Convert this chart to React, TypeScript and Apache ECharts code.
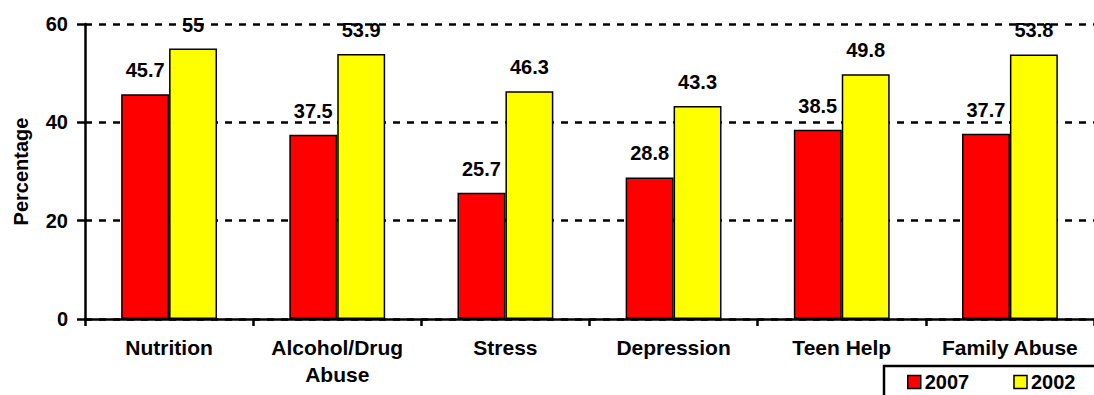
import React, { useEffect, useRef } from "react";
import * as echarts from "echarts";

const categories = ["Nutrition", "Alcohol/Drug\nAbuse", "Stress", "Depression", "Teen Help", "Family Abuse"];
const values2007 = [45.7, 37.5, 25.7, 28.8, 38.5, 37.7];
const values2002 = [55, 53.9, 46.3, 43.3, 49.8, 53.8];
const yTicks = { min: 0, max: 60, interval: 20 };

const FONT = "'Liberation Sans', Arial, sans-serif";

export default function App() {
  const ref = useRef<HTMLDivElement>(null);
  useEffect(() => {
    if (!ref.current) return;
    const chart = echarts.init(ref.current, null, { renderer: "svg" });
    const label = {
      show: true,
      position: "top",
      distance: 14,
      color: "#000",
      fontFamily: FONT,
      fontWeight: "bold",
      fontSize: 20,
    };
    chart.setOption({
      animation: false,
      textStyle: { fontFamily: FONT },
      grid: { left: 85, right: 0, top: 24, bottom: 76 },
      legend: {
        left: 884,
        top: 366,
        width: 400,
        orient: "horizontal",
        icon: "rect",
        padding: [6, 40, 30, 23],
        borderColor: "#000",
        borderWidth: 2.5,
        itemWidth: 13,
        itemHeight: 13,
        itemGap: 44,
        itemStyle: { borderColor: "#000", borderWidth: 1.5 },
        textStyle: { fontFamily: FONT, fontWeight: "bold", fontSize: 20, color: "#000", padding: [0, 0, 0, -1] },
        data: ["2007", "2002"],
      },
      xAxis: {
        type: "category",
        data: categories,
        axisLine: { lineStyle: { color: "#000", width: 2.5 } },
        axisTick: { show: true, length: 7, lineStyle: { color: "#000", width: 2.5 } },
        axisLabel: {
          color: "#000",
          fontFamily: FONT,
          fontWeight: "bold",
          fontSize: 21,
          lineHeight: 27,
          margin: 15,
          interval: 0,
        },
      },
      yAxis: {
        type: "value",
        min: yTicks.min,
        max: yTicks.max,
        interval: yTicks.interval,
        name: "Percentage",
        nameLocation: "middle",
        nameGap: 54,
        nameTextStyle: { color: "#000", fontFamily: FONT, fontWeight: "bold", fontSize: 20 },
        axisLine: { show: true, lineStyle: { color: "#000", width: 2.5 } },
        axisTick: { show: true, length: 8, lineStyle: { color: "#000", width: 2.5 } },
        axisLabel: { color: "#000", fontFamily: FONT, fontWeight: "bold", fontSize: 20, margin: 17 },
        splitLine: { show: true, lineStyle: { color: "#000", width: 2.5, type: [7, 7] } },
      },
      series: [
        {
          name: "2007",
          type: "bar",
          data: values2007,
          barGap: "0%",
          barCategoryGap: "43%",
          itemStyle: { color: "#ff0000", borderColor: "#000", borderWidth: 1.5 },
          label,
        },
        {
          name: "2002",
          type: "bar",
          data: values2002,
          barGap: "0%",
          barCategoryGap: "43%",
          itemStyle: { color: "#ffff00", borderColor: "#000", borderWidth: 1.5 },
          label,
        },
      ],
    });
    return () => chart.dispose();
  }, []);
  return (
    <div
      ref={ref}
      style={{ position: "fixed", left: 0, top: 0, width: 1094, height: 395, background: "#fff" }}
    />
  );
}
